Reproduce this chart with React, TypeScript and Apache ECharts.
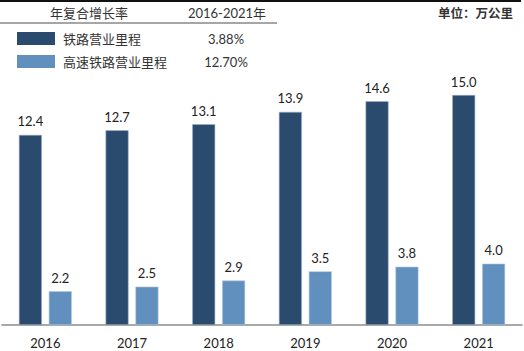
import React, { useEffect, useRef } from "react";
import * as echarts from "echarts";

const years = ["2016", "2017", "2018", "2019", "2020", "2021"];
const railway = [12.4, 12.7, 13.1, 13.9, 14.6, 15.0];
const highSpeed = [2.2, 2.5, 2.9, 3.5, 3.8, 4.0];
const seriesNames = ["铁路营业里程", "高速铁路营业里程"];
const cagrValues = ["3.88%", "12.70%"];
const headerLabels = ["年复合增长率", "2016-2021年"];
const unitLabel = "单位：万公里";

const DARK = "#2B4B6E";
const LIGHT = "#6190BE";
const FONT = "Lato, 'Noto Sans CJK SC', sans-serif";

export default function App() {
  const ref = useRef<HTMLDivElement>(null);
  useEffect(() => {
    if (!ref.current) return;
    const chart = echarts.init(ref.current, null, { renderer: "svg" });
    const label = {
      show: true,
      position: "top" as const,
      distance: 7,
      color: "#222",
      fontSize: 13,
      fontFamily: FONT,
      formatter: (p: any) => Number(p.value).toFixed(1),
    };
    chart.setOption({
      animation: false,
      backgroundColor: "#fff",
      textStyle: { fontFamily: FONT },
      grid: { left: 2, right: 2, top: 49, bottom: 26 },
      xAxis: {
        type: "category",
        data: years,
        axisLine: { show: true, lineStyle: { color: "#8c8c8c", width: 1.5 } },
        axisTick: { show: false },
        axisLabel: { color: "#222", fontSize: 13, margin: 11, fontFamily: FONT },
      },
      yAxis: {
        type: "value",
        min: 0,
        max: 18,
        show: false,
        splitLine: { show: false },
      },
      legend: { show: false },
      series: [
        {
          name: seriesNames[0],
          type: "bar",
          data: railway,
          barWidth: 23,
          barGap: "30%",
          itemStyle: { color: DARK, borderColor: "#9fb0c4", borderWidth: 0.6 },
          label,
        },
        {
          name: seriesNames[1],
          type: "bar",
          data: highSpeed,
          barWidth: 23,
          barGap: "30%",
          itemStyle: { color: LIGHT, borderColor: "#b5c8dc", borderWidth: 0.6 },
          label,
        },
      ],
      graphic: [
        { type: "rect", shape: { x: 0, y: 0, width: 521, height: 2 }, style: { fill: "#111" } },
        { type: "rect", shape: { x: 0, y: 22, width: 277, height: 2 }, style: { fill: "#a6a6a6" } },
        {
          type: "text", x: 89, y: 13,
          style: { text: headerLabels[0], fontSize: 13, fill: "#333", align: "center", verticalAlign: "middle", fontFamily: FONT },
        },
        {
          type: "text", x: 227, y: 13,
          style: { text: headerLabels[1], fontSize: 13, fill: "#333", align: "center", verticalAlign: "middle", fontFamily: FONT },
        },
        {
          type: "text", x: 513, y: 13,
          style: { text: unitLabel, fontSize: 12.5, fill: "#333", fontWeight: "bold", align: "right", verticalAlign: "middle", fontFamily: FONT },
        },
        { type: "rect", shape: { x: 17, y: 32, width: 38, height: 13 }, style: { fill: DARK } },
        { type: "rect", shape: { x: 17, y: 55, width: 38, height: 13 }, style: { fill: LIGHT } },
        {
          type: "text", x: 63, y: 38.5,
          style: { text: seriesNames[0], fontSize: 13, fill: "#333", align: "left", verticalAlign: "middle", fontFamily: FONT },
        },
        {
          type: "text", x: 63, y: 62,
          style: { text: seriesNames[1], fontSize: 13, fill: "#333", align: "left", verticalAlign: "middle", fontFamily: FONT },
        },
        {
          type: "text", x: 226, y: 38.5,
          style: { text: cagrValues[0], fontSize: 13, fill: "#333", align: "center", verticalAlign: "middle", fontFamily: FONT },
        },
        {
          type: "text", x: 226, y: 62,
          style: { text: cagrValues[1], fontSize: 13, fill: "#333", align: "center", verticalAlign: "middle", fontFamily: FONT },
        },
      ],
    });
    return () => chart.dispose();
  }, []);
  return <div ref={ref} style={{ width: 524, height: 351, position: "absolute", left: 0, top: 0 }} />;
}
